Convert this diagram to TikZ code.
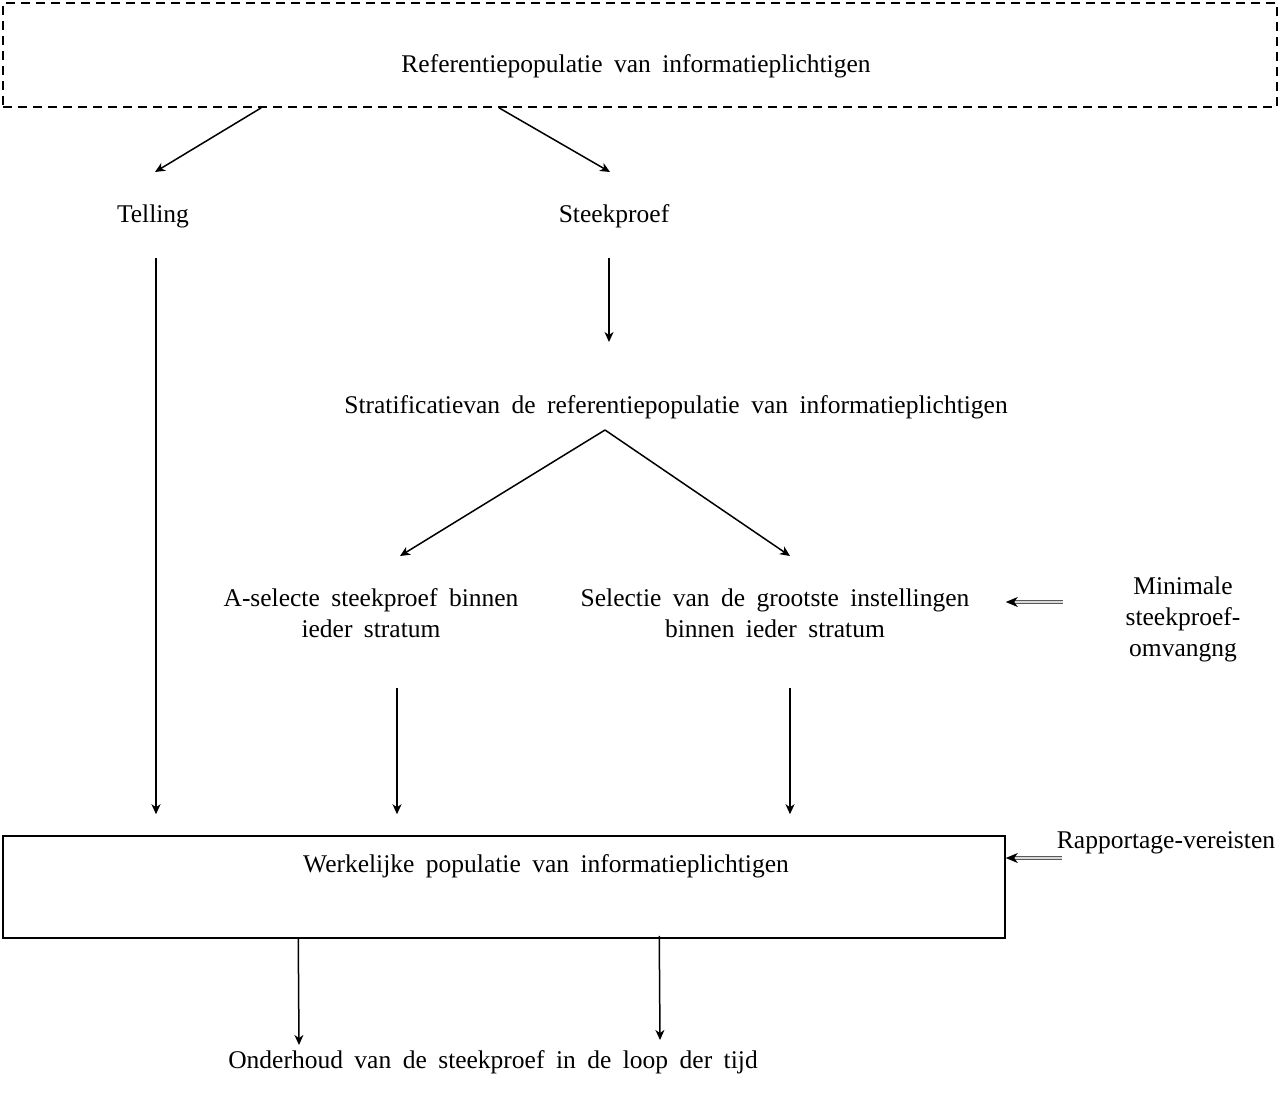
\documentclass[tikz,border=0pt]{standalone}
\usepackage{fontspec}
\setmainfont[WordSpace=1.8]{Liberation Serif}
\usetikzlibrary{arrows.meta,calc}
\begin{document}
\begin{tikzpicture}[x=1pt,y=-1pt,
  lbl/.style={inner sep=0pt, font=\fontsize{25.5}{31}\selectfont, align=center},
  arr/.style={draw, line width=1.5pt, -{Stealth[length=10pt,width=9pt,inset=3pt]}},
  dbl/.style={draw=gray!70!black, line width=1.1pt, double=gray!30, double distance=1.8pt, -{Stealth[black,length=12pt,width=10pt,inset=3.5pt]}}]
\useasboundingbox (0,0) rectangle (1280,1103);
% boxes
\node[draw, line width=1.8pt, dash pattern=on 9pt off 6pt, minimum width=1274pt, minimum height=104pt, inner sep=0pt] (refbox) at (640,55) {};
\node[lbl] (reft) at (636,66) {Referentiepopulatie van informatieplichtigen};
\node[draw, line width=1.5pt, minimum width=1002pt, minimum height=102pt, inner sep=0pt] (werk) at (504,887) {};
\node[lbl] (werkt) at (546,866) {Werkelijke populatie van informatieplichtigen};
% texts
\node[lbl] (tel) at (153,216) {Telling};
\node[lbl] (stk) at (614,216) {Steekproef};
\node[lbl] (strat) at (676,407) {Stratificatievan de referentiepopulatie van informatieplichtigen};
\node[lbl] (asel) at (371,613) {A-selecte steekproef binnen\\ieder stratum};
\node[lbl] (sel) at (775,613) {Selectie van de grootste instellingen\\binnen ieder stratum};
\node[lbl] (mini) at (1183,619) {Minimale\\steekproef-\\omvangng};
\node[lbl] (rap) at (1166,843) {Rapportage-vereisten};
\node[lbl] (ond) at (493,1062) {Onderhoud van de steekproef in de loop der tijd};
% connectors
\draw[arr] ($(refbox.south west)+(259,0)$) -- ($(tel.center)+(2,-44)$);
\draw[arr] ($(refbox.south west)+(497,0)$) -- ($(stk.center)+(-4,-44)$);
\draw[arr] ($(tel.center)+(3,42)$) -- ($(tel.center |- werk.north)+(3,-21)$);
\draw[arr] ($(stk.center)+(-5,42)$) -- ($(stk.center)+(-5,126)$);
\draw[arr] ($(strat.center)+(-71,23)$) -- ($(asel.center)+(29,-57)$);
\draw[arr] ($(strat.center)+(-71,23)$) -- ($(sel.center)+(15,-57)$);
\draw[arr] ($(asel.center)+(26,75)$) -- ($(asel.center |- werk.north)+(26,-21)$);
\draw[arr] ($(sel.center)+(15,75)$) -- ($(sel.center |- werk.north)+(15,-21)$);
\draw[dbl] ($(mini.center)+(-120,-17)$) -- ($(werk.east |- mini.center)+(0,-17)$);
\draw[dbl] ($(rap.west)+(5,15)$) -- ($(werk.east |- rap.center)+(0,15)$);
\draw[arr] ($(werk.south west)+(296,0)$) -- ($(ond.center)+(-194,-17)$);
\draw[arr] ($(werk.south west)+(657,-3)$) -- ($(ond.center)+(167,-22)$);
\end{tikzpicture}
\end{document}
